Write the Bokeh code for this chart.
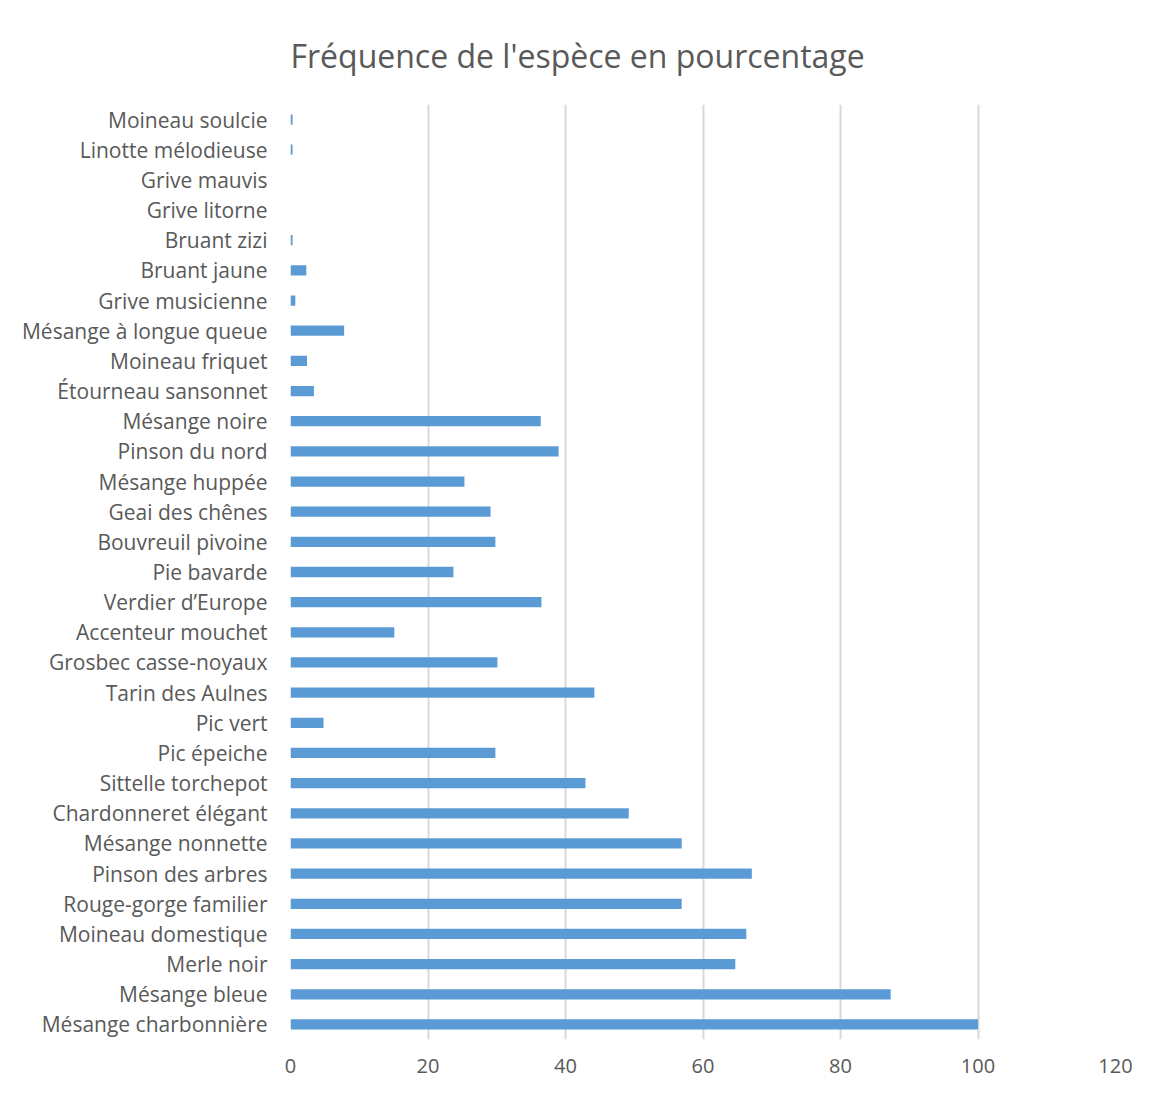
from bokeh.plotting import figure
from bokeh.models import FactorRange, Range1d, FixedTicker, Title
from bokeh.embed import file_html
from bokeh.resources import INLINE

# Species listed top to bottom as in the chart
species = [
    "Moineau soulcie", "Linotte mélodieuse", "Grive mauvis", "Grive litorne",
    "Bruant zizi", "Bruant jaune", "Grive musicienne", "Mésange à longue queue",
    "Moineau friquet", "Étourneau sansonnet", "Mésange noire", "Pinson du nord",
    "Mésange huppée", "Geai des chênes", "Bouvreuil pivoine", "Pie bavarde",
    "Verdier d’Europe", "Accenteur mouchet", "Grosbec casse-noyaux",
    "Tarin des Aulnes", "Pic vert", "Pic épeiche", "Sittelle torchepot",
    "Chardonneret élégant", "Mésange nonnette", "Pinson des arbres",
    "Rouge-gorge familier", "Moineau domestique", "Merle noir", "Mésange bleue",
    "Mésange charbonnière",
]
frequency = [
    0.3, 0.3, 0.0, 0.0,
    0.3, 2.3, 0.7, 7.8,
    2.4, 3.4, 36.4, 39.0,
    25.3, 29.1, 29.8, 23.7,
    36.5, 15.1, 30.1,
    44.2, 4.8, 29.8, 42.9,
    49.2, 56.9, 67.1,
    56.9, 66.3, 64.7, 87.3,
    100.0,
]
x_ticks = [0, 20, 40, 60, 80, 100, 120]
title_text = "Fréquence de l'espèce en pourcentage"

FONT = "Open Sans"
GREY = "#595959"

factors = list(reversed(species))

p = figure(
    width=1138, height=1082,
    y_range=FactorRange(factors=factors),
    x_range=Range1d(0, 120),
    output_backend="svg", toolbar_location=None,
    min_border_left=290, min_border_right=23,
    min_border_top=104, min_border_bottom=43,
)
p.title = Title(text=title_text, text_font=FONT, text_font_size="32px",
                text_color=GREY, text_font_style="normal", align="left",
                offset=0, standoff=56)

p.hbar(y=species, right=frequency, left=0, height=0.34,
       fill_color="#5b9bd5", line_color=None)

p.outline_line_color = None
p.ygrid.grid_line_color = None
p.xgrid.grid_line_color = "#d9d9d9"
p.xgrid.grid_line_width = 2
p.xgrid.ticker = FixedTicker(ticks=x_ticks)

p.xaxis.ticker = FixedTicker(ticks=x_ticks)
p.xaxis.axis_line_color = None
p.xaxis.major_tick_line_color = None
p.xaxis.minor_tick_line_color = None
p.xaxis.major_label_text_font = FONT
p.xaxis.major_label_text_font_size = "20px"
p.xaxis.major_label_text_color = GREY
p.xaxis.major_label_standoff = 13

p.yaxis.axis_line_color = None
p.yaxis.major_tick_line_color = None
p.yaxis.minor_tick_line_color = None
p.yaxis.major_label_text_font = FONT
p.yaxis.major_label_text_font_size = "21px"
p.yaxis.major_label_text_color = GREY
p.yaxis.major_label_standoff = 17

p.border_fill_color = "white"

open("out.html", "w").write(file_html(p, INLINE))
